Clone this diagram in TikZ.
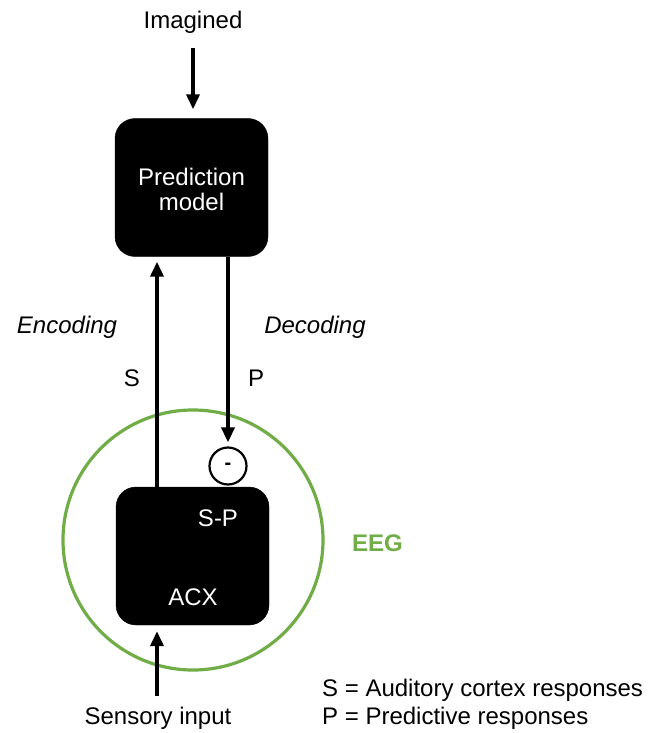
\documentclass[tikz,border=0pt]{standalone}
\usepackage{fontspec}
\setmainfont{Liberation Sans}
\usetikzlibrary{arrows.meta}
\definecolor{eeggreen}{RGB}{112,173,71}
\begin{document}
\begin{tikzpicture}[x=1pt,y=-1pt,
  font=\fontsize{24}{27}\selectfont,
  blackbox/.style={draw=black,fill=black,rounded corners=20pt,minimum width=153pt,minimum height=138pt,inner sep=0pt},
  wtext/.style={text=white,inner sep=0pt},
  lbl/.style={inner sep=0pt},
  conn/.style={line width=3.5pt,-{Triangle[length=15pt,width=13pt]}}
]
\useasboundingbox (0,0) rectangle (660,733);
% boxes
\node[blackbox] (pm) at (191.5,187.5) {};
\node[wtext,align=center] (pmtext) at (191.5,189) {Prediction\\[-2pt]model};
\node[blackbox] (acx) at (192.5,556) {};
\node[wtext] (sp) at (218,518) {S-P};
\node[wtext] (acxt) at (193,597) {ACX};
% EEG circle
\node[draw=eeggreen,line width=3.2pt,circle,minimum size=260pt,inner sep=0pt] (eeg) at (193,540) {};
\node[lbl,text=eeggreen,font=\fontsize{24}{27}\selectfont\bfseries] (eegl) at (377.5,543) {EEG};
% minus circle
\node[draw=black,line width=2.2pt,circle,minimum size=37pt,inner sep=0pt,font=\fontsize{20}{22}\selectfont\bfseries] (minus) at (228,466) {-};
% texts
\node[lbl] (imag) at (193,22) {Imagined};
\node[lbl] (sens) at (158,718) {Sensory input};
\node[lbl,font=\fontsize{24}{27}\selectfont\itshape] (enc) at (67,327) {Encoding};
\node[lbl,font=\fontsize{24}{27}\selectfont\itshape] (dec) at (315,327) {Decoding};
\node[lbl] (sl) at (132,378) {S};
\node[lbl] (pl) at (256,378) {P};
\node[lbl,anchor=west] (leg1) at (322,690) {S = Auditory cortex responses};
\node[lbl,anchor=west] (leg2) at (322,718) {P = Predictive responses};
% connectors
\coordinate (imgtop) at (193,48);
\coordinate (senbot) at (157,696);
\draw[conn,shorten >=9pt] (imgtop) -- (imgtop |- pm.north);
\draw[conn,shorten >=5pt] (157,0 |- acx.north) -- (157,0 |- pm.south);
\draw[conn,shorten >=4pt] (228,0 |- pm.south) -- (minus.north);
\draw[conn,shorten >=6pt] (senbot) -- (senbot |- acx.south);
\end{tikzpicture}
\end{document}
